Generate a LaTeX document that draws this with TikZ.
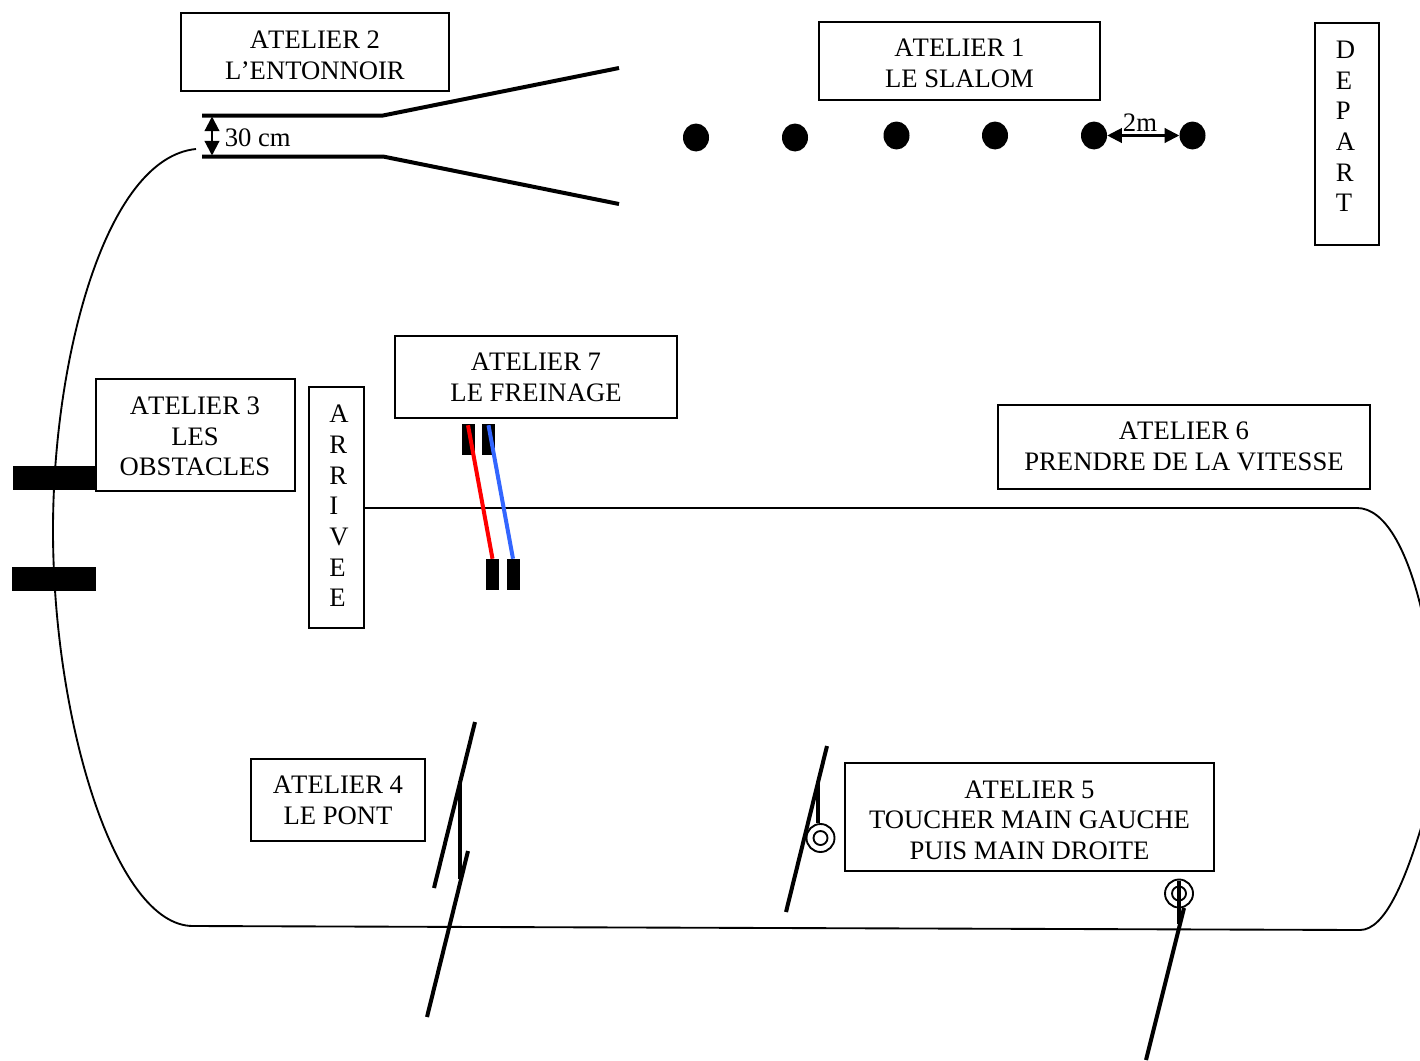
\documentclass[tikz,border=0pt]{standalone}
\usepackage{fontspec}
\setmainfont{Liberation Serif}
\usetikzlibrary{arrows.meta,shapes.geometric}
\definecolor{bluebar}{RGB}{51,102,255}
\tikzset{
  x=0.75pt,y=-0.75pt,
  frame box/.style={draw=black,line width=1.5pt,fill=white,inner sep=0pt},
  box text/.style={align=center,inner sep=0pt,font=\fontsize{20}{23}\selectfont},
  vert text/.style={align=left,anchor=west,inner sep=0pt,font=\fontsize{20}{23}\selectfont},
  free text/.style={inner sep=0pt,font=\fontsize{20}{23}\selectfont},
  track/.style={line width=1.4pt,black},
  thick bar/.style={line width=3pt,black},
  block/.style={fill=black,draw=none,inner sep=0pt},
  cone/.style={ellipse,fill=black,draw=none,inner sep=0pt,minimum width=19.5pt,minimum height=21pt},
  ring/.style={circle,draw=black,line width=1.4pt,inner sep=0pt},
  measure/.style={line width=1.6pt,{Triangle[length=11pt,width=11pt]}-{Triangle[length=11pt,width=11pt]}}
}
\newcommand{\AT}{A\kern-0.75pt TELIER}
\begin{document}
\begin{tikzpicture}
\useasboundingbox (0,0) rectangle (1420,1060);
\clip (0,0) rectangle (1420,1060);
% coordinates
\coordinate (tA) at (196,149);
\coordinate (tB) at (193,926);
\coordinate (tC) at (1360,930);
\coordinate (tD) at (1357,508);
\coordinate (tE) at (1421,608);
\coordinate (tF) at (1421,828);
% track
\draw[track] (tA) .. controls (105,158) and (53,360) .. (53,530)
  .. controls (53,720) and (115,926) .. (tB) -- (tC)
  .. controls (1385,930) and (1405,880) .. (tF);
\draw[track] (tE) .. controls (1407,550) and (1385,508) .. (tD);
% obstacles
\node[block,minimum width=63pt,minimum height=18pt] (ob1) at (55,477.5) {};
\node[block,minimum width=63pt,minimum height=18pt] (ob2) at (54,579) {};
% boxes
\node[frame box,minimum width=201pt,minimum height=58.5pt] (a2) at (315,52) {};
\node[box text] (a2t) at (315,55) {\AT{} 2\\L\kern-0.5pt ’ENTONNOIR};
\node[frame box,minimum width=210.75pt,minimum height=58.5pt] (a1) at (959.5,61) {};
\node[box text] (a1t) at (959.5,63) {\AT{} 1\\LE SLALOM};
\node[frame box,minimum width=212pt,minimum height=61.5pt] (a7) at (536,377) {};
\node[box text] (a7t) at (536,377) {\AT{} 7\\LE FREINAGE};
\node[frame box,minimum width=149.25pt,minimum height=84pt] (a3) at (195.5,435) {};
\node[box text] (a3t) at (195,436.5) {\AT{} 3\\LES\\OBST\kern-1.5pt ACLES};
\node[frame box,minimum width=279pt,minimum height=63pt] (a6) at (1184,446.5) {};
\node[box text] (a6t) at (1184,446.5) {\AT{} 6\\PRENDRE DE LA VITESSE};
\node[frame box,minimum width=131pt,minimum height=61.5pt] (a4) at (338,800) {};
\node[box text] (a4t) at (338,800.5) {\AT{} 4\\LE PONT};
\node[frame box,minimum width=276.75pt,minimum height=81pt] (a5) at (1029.5,817) {};
\node[box text] (a5t) at (1029.5,820) {\AT{} 5\\TOUCHER MAIN GAUCHE\\PUIS MAIN DROITE};
\node[frame box,minimum width=48pt,minimum height=166.5pt] (dep) at (1347,134) {};
\node[vert text] (dept) at (1335.5,126.5) {D\\E\\P\\A\\R\\T};
\node[frame box,minimum width=41.5pt,minimum height=180.75pt] (arr) at (336.5,507.5) {};
\node[vert text] (arrt) at (329,506) {A\\R\\R\\I\\V\\E\\E};
% finish line
\draw[track] (arr.east |- tD) -- (tD);
% funnel
\coordinate (f1) at (202,115.5);
\coordinate (f2) at (383,115.5);
\coordinate (f3) at (619,68);
\coordinate (f4) at (202,156.5);
\coordinate (f5) at (383,156.5);
\coordinate (f6) at (619,204);
\draw[thick bar] (f1) -- (f2) -- (f3);
\draw[thick bar] (f4) -- (f5) -- (f6);
\coordinate (m1) at (212,116.5);
\coordinate (m2) at (212,155.5);
\draw[measure] (m1) -- (m2);
\node[free text,anchor=west] (cm) at (224.5,137.5) {30 cm};
% slalom
\node[cone] (c1) at (696,137.5) {};
\node[cone] (c2) at (795,137.5) {};
\node[cone] (c3) at (896.5,135.5) {};
\node[cone] (c4) at (995,135.5) {};
\node[cone] (c5) at (1094,135.5) {};
\node[cone] (c6) at (1192.5,135.5) {};
\draw[measure] (c5) -- (c6);
\node[free text] (two) at (1140,123) {2m};
% braking
\node[block,minimum width=9.75pt,minimum height=23.25pt] (b1) at (468,439) {};
\node[block,minimum width=9.75pt,minimum height=23.25pt] (b2) at (488.5,439) {};
\node[block,minimum width=9.75pt,minimum height=23.25pt] (b3) at (492.5,574.5) {};
\node[block,minimum width=9.75pt,minimum height=23.25pt] (b4) at (513,574.5) {};
\draw[red,line width=3pt] (b1.north) ++(0,2) -- (b3.north);
\draw[bluebar,line width=3pt] (b2.north) ++(0,2) -- (b4.north);
% bridge
\coordinate (p1) at (475,722);
\coordinate (p2) at (434,888);
\coordinate (p3) at (468,851);
\coordinate (p4) at (427,1017);
\coordinate (p5) at (459.5,781);
\coordinate (p6) at (459.5,879);
\draw[thick bar] (p1) -- (p2);
\draw[thick bar] (p3) -- (p4);
\draw[thick bar] (p5) -- (p6);
% touch 1
\coordinate (q1) at (827,746);
\coordinate (q2) at (786,912);
\coordinate (q3) at (818,781);
\node[ring,minimum size=21pt] (r1) at (820.5,838) {};
\node[ring,minimum size=10.5pt] (r1i) at (820.5,838) {};
\draw[thick bar] (q1) -- (q2);
\draw[thick bar] (q3) -- (r1.north -| q3);
% touch 2
\node[ring,minimum size=21pt] (r2) at (1179,893.5) {};
\node[ring,minimum size=10.5pt] (r2i) at (1179,893.5) {};
\coordinate (s1) at (1184,908);
\coordinate (s2) at (1146,1060);
\coordinate (s3) at (1179,881);
\coordinate (s4) at (1179,924);
\draw[thick bar] (s1) -- (s2);
\draw[thick bar] (s3) -- (s4);
\end{tikzpicture}
\end{document}
